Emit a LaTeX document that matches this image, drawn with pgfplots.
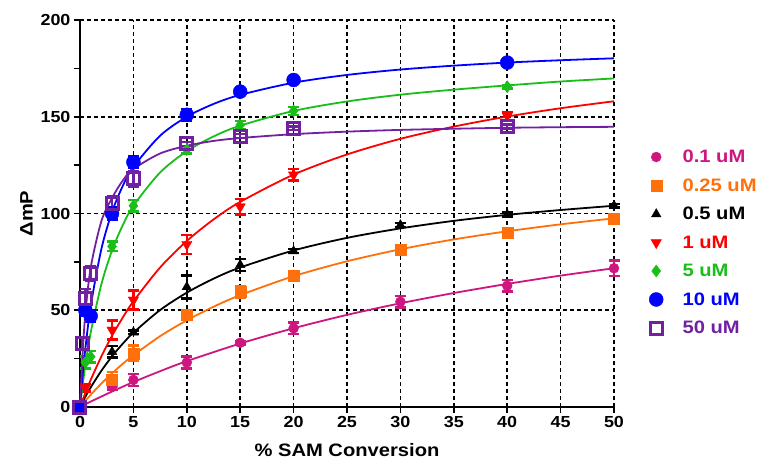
\documentclass[border=0pt]{standalone}
\usepackage{fontspec}
\setmainfont{Liberation Sans}[FakeStretch=1.12]
\usepackage{pgfplots}
\pgfplotsset{compat=1.18}
\definecolor{cpink}{RGB}{205,22,128}
\definecolor{corange}{RGB}{255,112,10}
\definecolor{cred}{RGB}{255,0,0}
\definecolor{cgreen}{RGB}{25,190,25}
\definecolor{cblue}{RGB}{0,0,255}
\definecolor{cpurple}{RGB}{112,32,160}

\pgfplotsset{
  fitline/.style={#1, line width=1.8pt, smooth, no marks, forget plot},
  pts/.style={only marks, color=#1, error bars/.cd, y dir=both, y explicit,
    error bar style={line width=2.4pt, #1},
    error mark options={rotate=90, mark size=5.5pt, line width=2.4pt, #1},
    /pgfplots/.cd},
}

\begin{document}
\begin{tikzpicture}
\begin{axis}[
  scale only axis, width=534pt, height=387pt,
  xmin=0, xmax=50, ymin=0, ymax=200,
  clip=false,
  axis lines=left,
  axis line style={-, line width=2pt},
  xtick={0,5,...,50}, ytick={0,50,...,200},
  minor y tick num=1,
  tick align=outside,
  major tick length=6pt, minor tick length=6pt,
  tick style={line width=1.6pt, black},
  grid=major,
  major grid style={black, line width=1.6pt, dash pattern=on 4pt off 3pt},
  /pgf/number format/assume math mode=true,
  tick label style={font=\fontsize{16}{16}\selectfont\bfseries},
  xlabel={\% SAM Conversion}, ylabel={ΔmP},
  label style={font=\fontsize{18}{18}\selectfont\bfseries},
  xlabel style={yshift=-9pt},
  ylabel style={yshift=1pt},
  legend style={at={(1.06,0.675)}, anchor=north west, draw=none, fill=none,
    font=\fontsize{18}{18}\selectfont\bfseries, row sep=10.5pt,
    legend cell align=left},
  legend image code/.code={\draw[#1] plot coordinates {(0.2cm,0cm)}; \path (0,0) (1.05cm,0);},
]
% 0.1 uM
\addplot[fitline=cpink] coordinates {(0,0)(1,2.8)(2,5.4)(3,8)(5,12.9)(7.5,18.5)(10,23.7)(15,32.8)(20,40.7)(25,47.6)(30,53.6)(35,58.9)(40,63.6)(45,67.9)(50,71.7)};
\addplot[pts=cpink, mark=*, mark size=5pt] coordinates {
  (0,0)+-(0,0) (3,10.5)+-(0,1.5) (5,14)+-(0,3) (10,23)+-(0,3) (15,33.2)+-(0,1)
  (20,40.7)+-(0,3) (30,54.4)+-(0,3) (40,62.7)+-(0,3) (50,71.7)+-(0,4)};
\addlegendentry{\textcolor{cpink}{0.1 uM}}
% 0.25 uM
\addplot[fitline=corange] coordinates {(0,0)(0.5,3.2)(1,6.3)(2,12.1)(3,17.4)(4,22.3)(5,26.7)(7.5,36.6)(10,44.8)(12.5,51.8)(15,57.8)(20,67.6)(25,75.3)(30,81.5)(35,86.6)(40,90.8)(45,94.4)(50,97.5)};
\addplot[pts=corange, mark=square*, mark size=5.5pt] coordinates {
  (0,0)+-(0,0) (3,14)+-(0,4) (5,27.7)+-(0,4) (10,47.5)+-(0,2) (15,59.6)+-(0,3)
  (20,67.7)+-(0,1) (30,81.5)+-(0,1) (40,90)+-(0,1) (50,97.5)+-(0,1)};
\addlegendentry{\textcolor{corange}{0.25 uM}}
% 0.5 uM
\addplot[fitline=black] coordinates {(0,0)(0.5,5.3)(1,10.1)(2,18.7)(3,26.2)(4,32.7)(5,38.4)(7.5,50.1)(10,59.1)(12.5,66.3)(15,72.1)(20,80.9)(25,87.4)(30,92.3)(35,96.2)(40,99.3)(45,101.8)(50,104)};
\addplot[pts=black, mark=triangle*, mark size=5.5pt] coordinates {
  (0,0)+-(0,0) (3,28.5)+-(0,3) (5,38.6)+-(0,1) (10,62)+-(0,6) (15,73.4)+-(0,3)
  (20,80.5)+-(0,1) (30,94)+-(0,1) (40,99.5)+-(0,1) (50,104)+-(0,1)};
\addlegendentry{\textcolor{black}{0.5 uM}}
% 1 uM
\addplot[fitline=cred] coordinates {(0,0)(0.25,3.7)(0.5,7.2)(1,14)(2,26.1)(3,36.8)(4,46.2)(5,54.6)(7.5,72.1)(10,85.8)(12.5,96.9)(15,106)(20,120.1)(25,130.5)(30,138.6)(35,144.9)(40,150.1)(45,154.4)(50,158)};
\addplot[pts=cred, mark=triangle*, mark options={rotate=180}, mark size=6pt] coordinates {
  (0,0)+-(0,0) (0.5,10)+-(0,2) (3,39.8)+-(0,5) (5,55.3)+-(0,5) (10,84)+-(0,5)
  (15,103.5)+-(0,4) (20,120)+-(0,3) (40,150.4)+-(0,2)};
\addlegendentry{\textcolor{cred}{1 uM}}
% 5 uM
\addplot[fitline=cgreen] coordinates {(0,0)(0.25,11.4)(0.5,21.5)(1,38.4)(2,63.4)(3,80.9)(4,93.9)(5,104)(7.5,121.2)(10,132.2)(12.5,139.8)(15,145.4)(20,153)(25,157.9)(30,161.4)(35,164)(40,166.2)(45,168.2)(50,169.8)};
\addplot[pts=cgreen, mark=diamond*, mark size=6pt] coordinates {
  (0,0)+-(0,0) (0.5,23)+-(0,3) (1,26)+-(0,3) (3,83)+-(0,2.5) (5,104)+-(0,3)
  (10,133)+-(0,2) (15,145.7)+-(0,2) (20,153)+-(0,2) (40,165.5)+-(0,1)};
\addlegendentry{\textcolor{cgreen}{5 uM}}
% 10 uM
\addplot[fitline=cblue] coordinates {(0,0)(0.25,16.4)(0.5,30.1)(1,52)(2,81.6)(3,100.8)(4,114.2)(5,124.1)(7.5,140.2)(10,150)(12.5,156.6)(15,161.3)(20,167.6)(25,171.6)(30,174.4)(35,176.4)(40,178)(45,179.2)(50,180.2)};
\addplot[pts=cblue, mark=*, mark size=7pt] coordinates {
  (0,0)+-(0,0) (0.5,50)+-(0,3) (1,47)+-(0,3) (3,100)+-(0,3) (5,126.5)+-(0,3)
  (10,151)+-(0,3) (15,163)+-(0,1) (20,169)+-(0,1) (40,178)+-(0,1)};
\addlegendentry{\textcolor{cblue}{10 uM}}
% 50 uM
\addplot[fitline=cpurple] coordinates {(0,0)(0.25,28)(0.5,48)(1,72)(2,96)(3,108)(4,117)(5,123)(7.5,131)(10,135)(12.5,137.5)(15,139)(20,141)(25,142.3)(30,143.2)(35,143.8)(40,144.3)(45,144.6)(50,144.8)};
\addplot[pts=cpurple, mark=square, mark size=6pt, mark options={line width=3pt}] coordinates {
  (0,0)+-(0,0) (0.25,33)+-(0,3) (0.5,56)+-(0,5) (1,69)+-(0,4) (3,105)+-(0,4)
  (5,118)+-(0,4) (10,136)+-(0,1) (15,140)+-(0,1) (20,144)+-(0,1) (40,145)+-(0,1)};
\addlegendentry{\textcolor{cpurple}{50 uM}}
\end{axis}
\pgfresetboundingbox
\path[use as bounding box] (-80pt,-56pt) rectangle (680pt,407pt);
\end{tikzpicture}
\end{document}
